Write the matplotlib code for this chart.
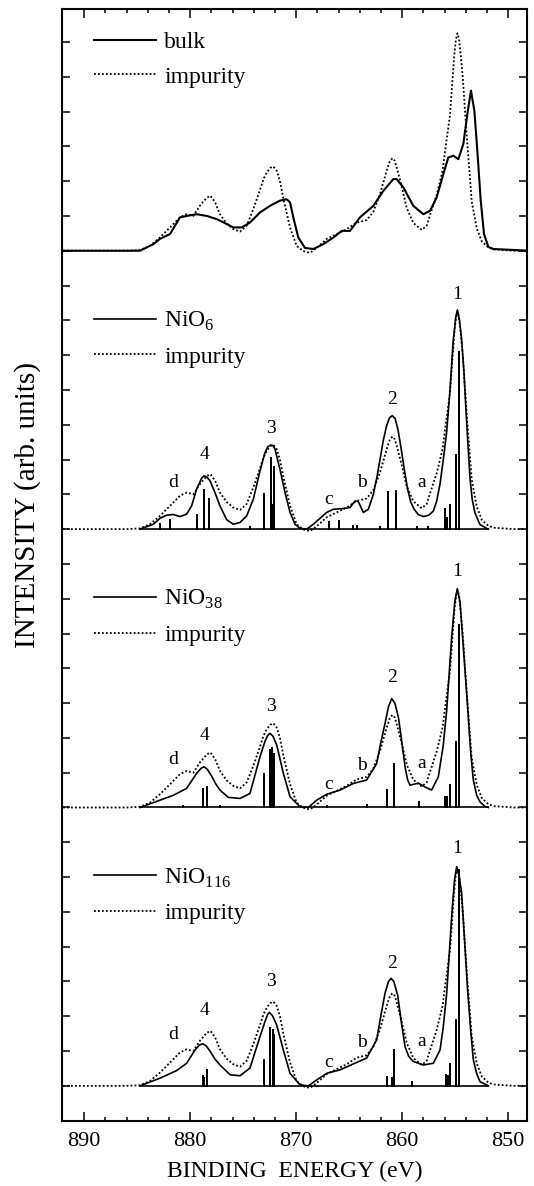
import numpy as np
import matplotlib.pyplot as plt
from matplotlib.lines import Line2D
from matplotlib.legend import Legend

plt.rcParams['font.family'] = ['Liberation Serif', 'DejaVu Serif']
plt.rcParams['mathtext.fontset'] = 'custom'
plt.rcParams['mathtext.rm'] = 'Liberation Serif'

# impurity spectrum (dotted, same curve in every panel), energy in eV
imp_e = [892.0, 886.0, 884.74, 883.8, 882.86, 881.91, 880.97, 880.34, 879.71, 879.08,
         878.45, 878.1, 877.67, 877.2, 876.57, 875.94, 875.31, 874.68, 874.05, 873.42,
         873.1, 872.79, 872.45, 872.16, 871.85, 871.54, 871.22, 870.59, 869.97, 869.34,
         868.71, 868.08, 867.13, 866.19, 865.25, 864.3, 863.36, 862.73, 862.1, 861.47,
         861.2, 860.94, 860.7, 860.53, 860.06, 859.58, 858.96, 858.17, 857.7, 857.38,
         856.75, 856.2, 855.97, 855.5, 855.34, 855.1, 854.95, 854.8, 854.65, 854.45,
         854.3, 854.1, 853.86, 853.45, 852.98, 852.5, 851.9, 851.41, 849.5, 848.0]
imp_i = [0.0, 0.0, 0.02, 0.14, 0.38, 0.67, 0.96, 1.05, 1.0, 1.3,
         1.52, 1.58, 1.4, 1.05, 0.78, 0.62, 0.55, 0.72, 1.2, 1.75,
         2.05, 2.25, 2.38, 2.42, 2.3, 2.0, 1.5, 0.67, 0.14, -0.01,
         -0.06, 0.08, 0.34, 0.48, 0.62, 0.81, 0.88, 1.12, 1.63, 2.3,
         2.55, 2.66, 2.58, 2.4, 1.85, 1.23, 0.8, 0.6, 0.72, 1.03,
         1.61, 2.3, 2.85, 3.9, 4.58, 5.6, 6.05, 6.25, 6.1, 5.5,
         5.0, 4.1, 3.05, 1.42, 0.65, 0.27, 0.1, 0.04, 0.0, 0.0]

bulk_e = [892.0, 886.0, 884.74, 883.48, 882.86, 881.91, 880.97, 880.34, 879.4, 878.45,
          877.51, 876.57, 875.94, 875.15, 874.37, 873.42, 872.48, 871.54, 870.91, 870.59,
          870.28, 869.81, 869.18, 868.39, 867.45, 866.5, 865.72, 864.93, 863.99, 862.73,
          861.79, 860.84, 860.53, 859.9, 858.96, 858.01, 857.38, 856.76, 856.13, 855.66,
          855.18, 854.71, 854.24, 853.86, 853.52, 853.2, 852.92, 852.6, 852.29, 851.88,
          851.41, 848.0]
bulk_i = [0.0, 0.0, 0.0, 0.19, 0.34, 0.48, 0.96, 1.0, 1.05, 1.0,
          0.91, 0.77, 0.67, 0.67, 0.81, 1.1, 1.29, 1.44, 1.48, 1.39,
          0.96, 0.38, 0.08, 0.05, 0.19, 0.38, 0.57, 0.57, 0.96, 1.29,
          1.72, 2.06, 2.06, 1.82, 1.29, 1.05, 1.15, 1.53, 2.2, 2.68,
          2.73, 2.63, 3.07, 3.93, 4.6, 4.02, 2.87, 1.44, 0.48, 0.11,
          0.05, 0.0]

nio6_e = [884.74, 883.48, 882.86, 882.23, 881.6, 880.97, 880.34, 879.87, 879.4, 878.93,
          878.7, 878.45, 878.14, 877.67, 877.2, 876.57, 875.94, 875.31, 874.68, 874.05,
          873.42, 872.95, 872.7, 872.42, 872.2, 872.01, 871.54, 871.06, 870.59, 870.12,
          869.65, 869.02, 868.39, 867.76, 867.13, 866.5, 865.56, 864.93, 864.46, 864.15,
          863.67, 863.2, 862.73, 862.42, 862.1, 861.79, 861.47, 861.2, 860.94, 860.68,
          860.4, 860.1, 859.8, 859.5, 859.2, 858.9, 858.5, 858.0, 857.5, 857.07,
          856.76, 856.44, 856.13, 855.81, 855.5, 855.2, 854.95, 854.8, 854.6, 854.4,
          854.18, 853.99, 853.8, 853.61, 853.4, 853.14, 852.67, 852.04, 851.88]
nio6_i = [0.0, 0.14, 0.31, 0.4, 0.42, 0.36, 0.43, 0.67, 1.15, 1.46,
          1.53, 1.5, 1.39, 1.05, 0.67, 0.27, 0.14, 0.19, 0.38, 0.86,
          1.68, 2.2, 2.36, 2.42, 2.4, 2.3, 1.72, 1.05, 0.48, 0.14,
          0.02, 0.0, 0.14, 0.31, 0.48, 0.57, 0.59, 0.62, 0.81, 0.79,
          0.48, 0.57, 1.0, 1.45, 2.0, 2.55, 2.98, 3.2, 3.26, 3.18,
          2.85, 2.3, 1.7, 1.15, 0.78, 0.58, 0.42, 0.36, 0.4, 0.52,
          0.8, 1.3, 2.0, 2.8, 4.0, 5.4, 6.1, 6.3, 6.0, 5.44,
          4.5, 3.4, 2.4, 1.45, 0.85, 0.46, 0.13, 0.02, 0.0]

nio38_e = [884.74, 882.86, 881.6, 880.34, 879.4, 879.0, 878.71, 878.4, 877.98, 877.6,
           877.2, 876.41, 875.31, 874.37, 873.42, 872.95, 872.7, 872.48, 872.2, 871.85,
           871.54, 871.22, 870.59, 869.65, 868.86, 868.08, 867.13, 865.87, 864.62, 863.36,
           862.42, 862.0, 861.63, 861.3, 861.0, 860.7, 860.37, 860.05, 859.74, 859.5,
           859.27, 858.48, 857.86, 857.23, 856.6, 856.13, 855.81, 855.34, 855.05, 854.81,
           854.55, 854.24, 853.86, 853.55, 853.3, 852.98, 852.67, 852.2, 851.88]
nio38_i = [0.0, 0.21, 0.35, 0.55, 0.98, 1.12, 1.17, 1.1, 0.9, 0.68,
           0.5, 0.29, 0.26, 0.4, 1.46, 1.9, 2.07, 2.13, 2.05, 1.8,
           1.4, 0.98, 0.31, 0.02, 0.0, 0.21, 0.38, 0.5, 0.69, 0.79,
           1.26, 1.9, 2.41, 2.9, 3.13, 3.0, 2.6, 1.9, 1.17, 0.8,
           0.64, 0.7, 0.59, 0.5, 0.88, 1.8, 2.8, 4.9, 5.9, 6.29,
           5.9, 4.6, 2.99, 1.6, 0.79, 0.35, 0.16, 0.03, 0.0]

nio116_e = [884.74, 882.86, 881.28, 880.34, 879.55, 879.15, 878.83, 878.5, 878.14, 877.7,
            877.2, 876.25, 875.31, 874.37, 873.42, 872.95, 872.7, 872.54, 872.25, 871.85,
            871.54, 871.22, 870.59, 869.65, 868.86, 868.08, 867.13, 865.87, 864.62, 863.36,
            862.42, 862.0, 861.63, 861.3, 861.06, 860.8, 860.43, 860.1, 859.74, 859.4,
            858.96, 858.01, 857.07, 856.44, 856.13, 855.81, 855.34, 855.08, 854.87, 854.62,
            854.4, 854.15, 853.86, 853.55, 853.3, 852.98, 852.67, 851.88]
nio116_i = [0.0, 0.22, 0.44, 0.65, 1.03, 1.17, 1.21, 1.15, 1.0, 0.78,
            0.6, 0.32, 0.29, 0.51, 1.42, 1.85, 2.05, 2.11, 2.02, 1.75,
            1.4, 1.03, 0.36, 0.03, 0.0, 0.17, 0.36, 0.46, 0.63, 0.8,
            1.32, 2.05, 2.66, 3.0, 3.09, 3.0, 2.6, 1.85, 1.13, 0.85,
            0.7, 0.6, 0.65, 1.03, 1.7, 2.66, 4.87, 5.9, 6.3, 6.0,
            5.54, 4.3, 2.85, 1.6, 0.75, 0.35, 0.12, 0.0]

# stick spectra
st6_e = [882.86, 881.91, 879.4, 878.71, 878.2, 874.37, 873.05, 872.42, 872.16, 872.1,
         866.88, 865.94, 864.62, 864.3, 862.1, 861.32, 860.59, 858.64, 857.54, 855.97,
         855.75, 855.5, 854.93, 854.62]
st6_i = [0.14, 0.27, 0.4, 1.13, 0.86, 0.05, 1.02, 2.04, 0.7, 1.79,
         0.21, 0.24, 0.08, 0.08, 0.05, 1.07, 1.1, 0.05, 0.05, 0.57,
         0.32, 0.7, 2.12, 5.1]
st38_e = [880.66, 878.83, 878.45, 877.2, 873.05, 872.48, 872.26, 872.16, 872.1, 867.13,
          863.36, 861.47, 860.78, 858.39, 855.97, 855.75, 855.5, 854.96, 854.62]
st38_i = [0.05, 0.52, 0.59, 0.04, 0.96, 1.65, 1.7, 0.34, 1.55, 0.05,
          0.06, 0.5, 1.26, 0.16, 0.29, 0.29, 0.64, 1.89, 5.24]
st116_e = [878.83, 878.71, 878.39, 873.05, 872.48, 872.23, 872.1, 861.47, 861.0, 860.78,
           859.12, 855.88, 855.72, 855.5, 854.96, 854.65]
st116_i = [0.29, 0.22, 0.46, 0.75, 1.66, 1.61, 1.47, 0.25, 0.22, 1.02,
           0.1, 0.32, 0.27, 0.63, 1.88, 6.2]

names = ['bulk', r'NiO$_{\mathregular{6}}$', r'NiO$_{\mathregular{38}}$', r'NiO$_{\mathregular{116}}$']
solids = [(bulk_e, bulk_i), (nio6_e, nio6_i), (nio38_e, nio38_i), (nio116_e, nio116_i)]
sticks = [None, (st6_e, st6_i), (st38_e, st38_i), (st116_e, st116_i)]
offsets = [24, 16, 8, 0]

peak_names = ['1', '2', '3', '4', 'a', 'b', 'c', 'd']
peak_x = [854.81, 860.94, 872.42, 878.66, 858.17, 863.83, 866.98, 881.6]
peak_y = [None,
          [6.75, 3.72, 2.9, 2.14, 1.34, 1.34, 0.84, 1.34],
          [6.77, 3.73, 2.91, 2.06, 1.26, 1.22, 0.66, 1.38],
          [6.81, 3.52, 3.0, 2.16, 1.27, 1.25, 0.67, 1.47]]

fig = plt.figure(figsize=(5.34, 11.86), dpi=100)
ax = fig.add_axes([0.1167, 0.0551, 0.8697, 0.9371])

dot = (0, (1, 1.2))
for k in range(4):
    off = offsets[k]
    ax.plot(imp_e, np.array(imp_i) + off, color='k', lw=1.3, ls=dot)
    se, si = solids[k]
    ax.plot(se, np.array(si) + off, color='k', lw=1.2 if k else 1.5)
    if sticks[k] is not None:
        ste, sti = sticks[k]
        xs = [se[0]]
        ys = [0.0]
        for e, h in zip(ste, sti):
            xs += [e, e, e]
            ys += [0.0, h, 0.0]
        xs.append(se[-1])
        ys.append(0.0)
        ax.plot(xs, np.array(ys) + off, color='k', lw=1.2)
        for name, px, py in zip(peak_names, peak_x, peak_y[k]):
            ax.text(px, py + off, name, ha='center', va='center', fontsize=14)

    handles = [Line2D([], [], color='k', lw=1.2 if k else 1.5),
               Line2D([], [], color='k', lw=1.3, ls=dot)]
    leg = Legend(ax, handles, [names[k], 'impurity'], loc='upper left',
                 bbox_to_anchor=(889.1, off + 6.3), bbox_transform=ax.transData,
                 frameon=False, fontsize=17, borderpad=0, borderaxespad=0,
                 handlelength=2.65, handletextpad=0.33, labelspacing=0.55)
    ax.add_artist(leg)

ax.set_xlim(892.07, 848.26)
ax.set_ylim(-1, 30.94)
ax.set_xticks([890, 880, 870, 860, 850])
ax.set_xticks(np.arange(850, 892, 2), minor=True)
ax.set_yticks(np.arange(-1, 31, 1))
ax.set_yticklabels([])
ax.tick_params(axis='x', which='major', direction='in', top=True, bottom=True,
               length=6.5, width=1.1, labelsize=16, pad=8)
ax.tick_params(axis='x', which='minor', direction='in', top=True, bottom=True,
               length=3, width=1.1)
ax.tick_params(axis='y', which='major', direction='in', left=True, right=True,
               length=6, width=1.1)
for sp in ax.spines.values():
    sp.set_linewidth(1.5)

ax.set_xlabel('BINDING  ENERGY (eV)', fontsize=17, labelpad=7)
fig.text(28 / 534, 1 - 505 / 1186, 'INTENSITY (arb. units)', rotation=90,
         ha='center', va='center', fontsize=21)

fig.savefig('out.png', dpi=100)
